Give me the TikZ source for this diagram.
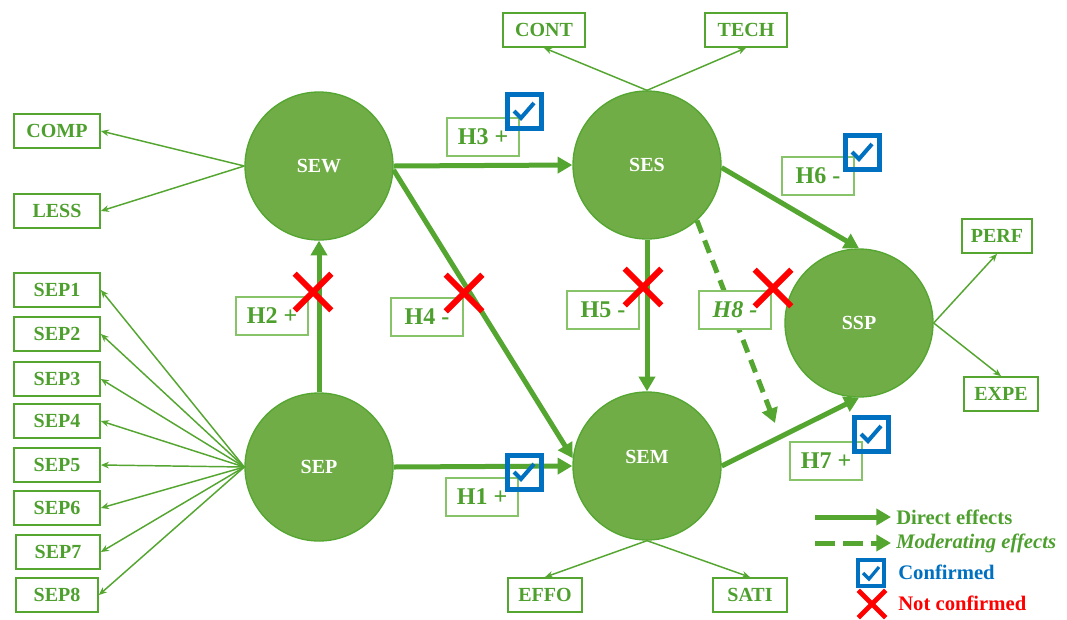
\documentclass[tikz,border=0pt]{standalone}
\usepackage{fontspec}
\setmainfont{Liberation Serif}
\usetikzlibrary{arrows.meta,shapes.misc}
\definecolor{gfill}{RGB}{112,173,71}
\definecolor{gline}{RGB}{84,166,48}
\definecolor{gtext}{RGB}{78,160,46}
\definecolor{glight}{RGB}{135,195,105}
\definecolor{cblue}{RGB}{0,112,192}
\definecolor{cred}{RGB}{255,0,0}
\begin{document}
\begin{tikzpicture}[x=0.75pt,y=-0.75pt,
 latent/.style={circle,fill=gfill,draw=gline,line width=1pt,minimum size=111pt,inner sep=0pt,text=white,font=\bfseries\fontsize{15}{18}\selectfont},
 lattext/.style={inner sep=0pt,text=white,font=\bfseries\fontsize{15}{18}\selectfont},
 ind/.style={draw=gline,line width=1.3pt,fill=white,minimum height=25.5pt,inner sep=0pt,text=gtext,font=\bfseries\fontsize{15}{18}\selectfont},
 hyp/.style={draw=glight,line width=0.9pt,fill=white,minimum width=54pt,minimum height=28.5pt,inner sep=0pt,text=gtext,font=\bfseries\fontsize{18}{21}\selectfont},
 loadarr/.style={draw=gline,line width=1.1pt,-{Stealth[length=6pt,width=5pt]}},
 direct/.style={draw=gline,line width=3.75pt,-{Triangle[length=11pt,width=12pt]}},
 moder/.style={direct,dash pattern=on 10pt off 6pt},
 chk/.style={draw=cblue,line width=3.75pt,minimum size=25.5pt,inner sep=0pt,
   path picture={\draw[cblue,line width=3pt,shift={(path picture bounding box.center)}] (-10,0) -- (-3,7) -- (10,-8);}},
 chksmall/.style={draw=cblue,line width=3pt,minimum size=19pt,inner sep=0pt,
   path picture={\draw[cblue,line width=2.4pt,shift={(path picture bounding box.center)}] (-8,0) -- (-2,6) -- (8,-6);}},
 nok/.style={cross out,draw=cred,line width=4.5pt,minimum size=23pt,inner sep=0pt},
 noksmall/.style={cross out,draw=cred,line width=3.5pt,minimum size=17pt,inner sep=0pt},
 legtext/.style={anchor=west,inner sep=0pt,font=\bfseries\fontsize{15.5}{18}\selectfont},
]
\useasboundingbox[fill=white] (0,0) rectangle (1067,619);

% latent variables
\node[latent] (SEW) at (319,166) {SEW};
\node[latent] (SES) at (647,165) {SES};
\node[latent] (SEP) at (319,467) {SEP};
\node[latent] (SEM) at (647,466) {};
\node[lattext] (SEMt) at (647,457) {SEM};
\node[latent] (SSP) at (859,323) {SSP};

% indicators
\node[ind,minimum width=64.5pt] (COMP) at (57,131) {COMP};
\node[ind,minimum width=64.5pt] (LESS) at (57,211) {LESS};
\node[ind,minimum width=64.5pt] (SEP1) at (57,290) {SEP1};
\node[ind,minimum width=64.5pt] (SEP2) at (57,334) {SEP2};
\node[ind,minimum width=64.5pt] (SEP3) at (57,379) {SEP3};
\node[ind,minimum width=64.5pt] (SEP4) at (57,421) {SEP4};
\node[ind,minimum width=64.5pt] (SEP5) at (57,465) {SEP5};
\node[ind,minimum width=64.5pt] (SEP6) at (57,508) {SEP6};
\node[ind,minimum width=63pt] (SEP7) at (58,552) {SEP7};
\node[ind,minimum width=61.5pt] (SEP8) at (57,595) {SEP8};
\node[ind,minimum width=61pt] (CONT) at (544,30) {CONT};
\node[ind,minimum width=61pt] (TECH) at (746,30) {TECH};
\node[ind,minimum width=53pt] (PERF) at (997,236) {PERF};
\node[ind,minimum width=55.5pt] (EXPE) at (1001,394) {EXPE};
\node[ind,minimum width=55pt] (EFFO) at (545,595) {EFFO};
\node[ind,minimum width=55pt] (SATI) at (750,595) {SATI};

% loadings
\draw[loadarr] (SEW.west) -- (COMP.east);
\draw[loadarr] (SEW.west) -- (LESS.east);
\foreach \i in {1,...,8} {\draw[loadarr] (SEP.west) -- (SEP\i.east);}
\draw[loadarr] (SES.north) -- (CONT.south);
\draw[loadarr] (SES.north) -- (TECH.south);
\draw[loadarr] (SEM.south) -- (EFFO.north);
\draw[loadarr] (SEM.south) -- (SATI.north);
\draw[loadarr] (SSP.east) -- (PERF.south);
\draw[loadarr] (SSP.east) -- (EXPE.north);

% structural paths
\draw[direct] (SEP.north) -- (SEW.south);
\draw[direct] (SEW.east) -- (SES.west);
\draw[direct] (SEW.-3) -- (SEM.174);
\draw[direct] (SEP.east) -- (SEM.west);
\draw[direct] (SES.south) -- (SEM.north);
\draw[direct] (SES.-2) -- (SSP.north);
\draw[direct] (SEM.east) -- (SSP.south);
\coordinate (modend) at (775,423);
\draw[moder] (SES.-48) -- (modend);

% hypothesis labels
\node[hyp] (H3) at (483,137) {H3 +};
\node[hyp] (H4) at (427,317) {H4 -};
\node[hyp] (H5) at (603,310) {H5 -};
\node[hyp] (H8) at (735,310) {\itshape H8 -};
\node[hyp] (H2) at (272,316) {H2 +};
\node[hyp] (H1) at (482,497) {H1 +};
\node[hyp] (H6) at (818,176) {H6 -};
\node[hyp] (H7) at (826,461) {H7 +};

% results
\node[chk] (C3) at (524,111) {};
\node[chk] (C1) at (524,472) {};
\node[chk] (C6) at (862,152) {};
\node[chk] (C7) at (871,434) {};
\node[nok] (X2) at (313,292) {};
\node[nok] (X4) at (464,293) {};
\node[nok] (X5) at (643,287) {};
\node[nok] (X8) at (773,288) {};

% legend
\coordinate (LA1) at (815,517);
\coordinate (LB1) at (891,517);
\coordinate (LA2) at (815,543);
\coordinate (LB2) at (891,543);
\draw[direct] (LA1) -- (LB1);
\draw[direct,dash pattern=on 15pt off 6pt] (LA2) -- (LB2);
\node[legtext,text=gtext] (LT1) at (896,517) {Direct effects};
\node[legtext,text=gtext,font=\bfseries\itshape\fontsize{15.5}{18}\selectfont] (LT2) at (896,543) {Moderating effects};
\node[chksmall] (LC) at (871,573) {};
\node[legtext,text=cblue] (LT3) at (898,572) {Confirmed};
\node[noksmall] (LX) at (872,604) {};
\node[legtext,text=cred] (LT4) at (898,603) {Not confirmed};
\end{tikzpicture}
\end{document}
